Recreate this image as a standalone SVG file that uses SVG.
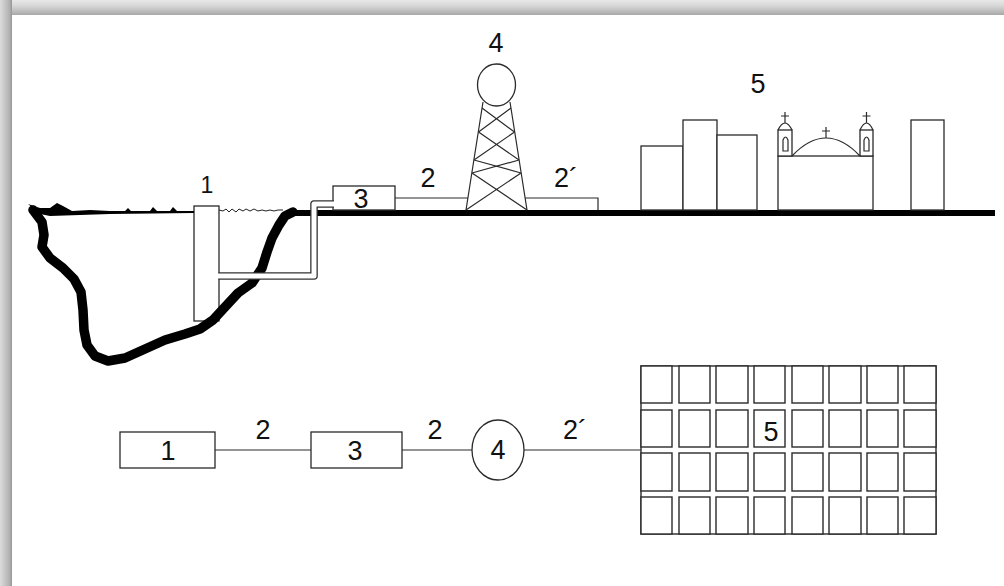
<svg xmlns="http://www.w3.org/2000/svg" width="1004" height="586" viewBox="0 0 1004 586">
  <style>
    .ln { fill: none; stroke: #2a2a2a; stroke-width: 1.2; }
    .box { fill: #ffffff; stroke: #2a2a2a; stroke-width: 1.3; }
    .lbl { font-family: "Liberation Sans", Arial, sans-serif; font-size: 27px; fill: #111; text-anchor: middle; }
    .cell { fill: #ffffff; stroke: #2a2a2a; stroke-width: 1.4; }
  </style>
  <defs>
    <linearGradient id="shadeTop" x1="0" y1="0" x2="0" y2="1">
      <stop offset="0" stop-color="#e8e8e8"/>
      <stop offset="0.4" stop-color="#d6d6d6"/>
      <stop offset="0.75" stop-color="#bcbcbc"/>
      <stop offset="1" stop-color="#a8a8a8"/>
    </linearGradient>
    <linearGradient id="shadeLeft" x1="0" y1="0" x2="1" y2="0">
      <stop offset="0" stop-color="#dcdcdc"/>
      <stop offset="0.45" stop-color="#c4c4c4"/>
      <stop offset="0.8" stop-color="#b0b0b0"/>
      <stop offset="1" stop-color="#969696"/>
    </linearGradient>
  </defs>

  <!-- page background and frame shadow -->
  <rect x="0" y="0" width="1004" height="586" fill="#ffffff"/>
  <rect x="0" y="0" width="1004" height="15" fill="url(#shadeTop)"/>
  <rect x="0" y="0" width="12" height="586" fill="url(#shadeLeft)"/>

  <!-- ===== upper scene: intake, treatment, tower, town ===== -->
  <g id="intake-1">
    <rect class="box" x="194" y="206" width="25" height="115"/>
    <text class="lbl" x="207" y="193" style="font-size:23px">1</text>
  </g>

  <g id="scene">
    <!-- pond bank outline -->
    <path d="M33,210 L42,222 L44,235 L42,247 L50,258 L63,268 L74,279 L81,292 L83,310 L84,330 L87,345 L95,356 L108,361 L125,358 L145,349 L165,340 L185,334 L200,329 L213,320 L225,307 L238,293 L252,283 L262,268 L267,252 L272,238 L279,225 L285,216 L293,212" fill="none" stroke="#000" stroke-width="9.5" stroke-linejoin="round" stroke-linecap="round"/>
    <!-- water surface, left of the intake -->
    <path d="M28,204 L40,208 L50,208 L57,203 L63,206 L72,211 L90,210 L110,211 L125,211 L128,208 L131,211 L150,211 L153,207 L157,211 L170,211 L173,207 L177,211 L194,211 L194,213 L110,214 L80,215 L50,216 L40,214 Z" fill="#000"/>
    <!-- water surface ripples, right of the intake -->
    <path d="M219,210 l4,1 l3,-2 l3,3 l3,-3 l4,3 l3,-3 l4,2 l3,-2 l4,2 l4,-2 l4,2 l4,-1 l4,1 l4,-1 l4,1 l4,-1 l5,0" fill="none" stroke="#222" stroke-width="1"/>
    <!-- ground -->
    <rect x="286" y="210" width="709" height="6" fill="#000"/>
  </g>

  <g id="plant-3">
    <rect class="box" x="333" y="186" width="62" height="24"/>
    <text class="lbl" x="361" y="208">3</text>
  </g>

  <!-- intake pipe from the well to the plant -->
  <g id="pipe">
    <path d="M218.5,276 L314,276 L314,204 L333.8,204" fill="none" stroke="#333" stroke-width="7.6" stroke-linejoin="round"/>
    <path d="M218,276 L314,276 L314,204 L334.5,204" fill="none" stroke="#fff" stroke-width="5" stroke-linejoin="round"/>
  </g>

  <!-- conduits along the ground -->
  <g id="conduit-2">
    <path class="ln" d="M395,198 L468,198"/>
    <text class="lbl" x="428" y="187">2</text>
  </g>
  <g id="conduit-2p">
    <path class="ln" d="M525,198 L598,198 L598,210"/>
    <text class="lbl" x="566" y="187">2´</text>
  </g>

  <g id="tower-4">
    <path class="ln" d="M483,102 L466,210 M510,102 L527,210"/>
    <!-- lattice bracing -->
    <path class="ln" d="M482,108 L514.5,132 M511,108 L478.5,132 M478.5,132 L519,160 M514.5,132 L474,160 M474,160 L521,173 M519,160 L472,173 M472,173 L527,210 M521,173 L466,210"/>
    <ellipse class="box" cx="496.5" cy="85" rx="19" ry="21"/>
    <text class="lbl" x="496" y="52">4</text>
  </g>

  <g id="town-5">
    <rect class="box" x="641" y="146" width="42" height="64"/>
    <rect class="box" x="683" y="120" width="34" height="90"/>
    <rect class="box" x="717" y="135" width="40" height="75"/>
    <!-- church -->
    <rect class="box" x="778" y="156" width="95" height="54"/>
    <rect class="box" x="778" y="130" width="14" height="26"/>
    <rect class="box" x="860" y="130" width="13" height="26"/>
    <path class="ln" d="M778,130 Q785,116 792,130 M860,130 Q866.5,116 873,130"/>
    <path class="ln" d="M785,112 L785,123 M781,116 L789,116 M866.5,112 L866.5,123 M862.5,116 L870.5,116"/>
    <path class="ln" d="M783,151 L783,140 Q785.5,134 788,140 L788,151 Z M864,151 L864,140 Q866.5,134 869,140 L869,151 Z"/>
    <path class="ln" d="M792,156 Q826,120 860,156"/>
    <path class="ln" d="M826,127 L826,138 M822,131 L830,131"/>
    <rect class="box" x="911" y="120" width="33" height="90"/>
    <text class="lbl" x="758" y="93">5</text>
  </g>

  <!-- ===== lower block diagram ===== -->
  <g id="connectors">
    <path class="ln" d="M215,450 L311,450"/>
    <path class="ln" d="M402,450 L472,450"/>
    <path class="ln" d="M524,450 L641,450"/>
    <text class="lbl" x="263" y="439">2</text>
    <text class="lbl" x="435" y="439">2</text>
    <text class="lbl" x="575" y="439">2´</text>
  </g>

  <g id="node-1">
    <rect class="box" x="120" y="432" width="95" height="36"/>
    <text class="lbl" x="168" y="460">1</text>
  </g>

  <g id="node-3">
    <rect class="box" x="311" y="432" width="91" height="36"/>
    <text class="lbl" x="355" y="460">3</text>
  </g>

  <g id="node-4">
    <ellipse class="box" cx="498" cy="450" rx="26" ry="30"/>
    <text class="lbl" x="498" y="459">4</text>
  </g>

  <g id="node-5">
    <rect class="cell" x="641" y="366" width="295" height="168"/>
    <g>
      <rect class="cell" x="641" y="366" width="31" height="37"/><rect class="cell" x="679" y="366" width="31" height="37"/><rect class="cell" x="716" y="366" width="32" height="37"/><rect class="cell" x="754" y="366" width="31" height="37"/><rect class="cell" x="792" y="366" width="31" height="37"/><rect class="cell" x="829" y="366" width="32" height="37"/><rect class="cell" x="867" y="366" width="31" height="37"/><rect class="cell" x="904" y="366" width="32" height="37"/>
      <rect class="cell" x="641" y="410" width="31" height="37"/><rect class="cell" x="679" y="410" width="31" height="37"/><rect class="cell" x="716" y="410" width="32" height="37"/><rect class="cell" x="754" y="410" width="31" height="37"/><rect class="cell" x="792" y="410" width="31" height="37"/><rect class="cell" x="829" y="410" width="32" height="37"/><rect class="cell" x="867" y="410" width="31" height="37"/><rect class="cell" x="904" y="410" width="32" height="37"/>
      <rect class="cell" x="641" y="453" width="31" height="38"/><rect class="cell" x="679" y="453" width="31" height="38"/><rect class="cell" x="716" y="453" width="32" height="38"/><rect class="cell" x="754" y="453" width="31" height="38"/><rect class="cell" x="792" y="453" width="31" height="38"/><rect class="cell" x="829" y="453" width="32" height="38"/><rect class="cell" x="867" y="453" width="31" height="38"/><rect class="cell" x="904" y="453" width="32" height="38"/>
      <rect class="cell" x="641" y="497" width="31" height="37"/><rect class="cell" x="679" y="497" width="31" height="37"/><rect class="cell" x="716" y="497" width="32" height="37"/><rect class="cell" x="754" y="497" width="31" height="37"/><rect class="cell" x="792" y="497" width="31" height="37"/><rect class="cell" x="829" y="497" width="32" height="37"/><rect class="cell" x="867" y="497" width="31" height="37"/><rect class="cell" x="904" y="497" width="32" height="37"/>
    </g>
    <text class="lbl" x="771" y="441">5</text>
  </g>
</svg>
